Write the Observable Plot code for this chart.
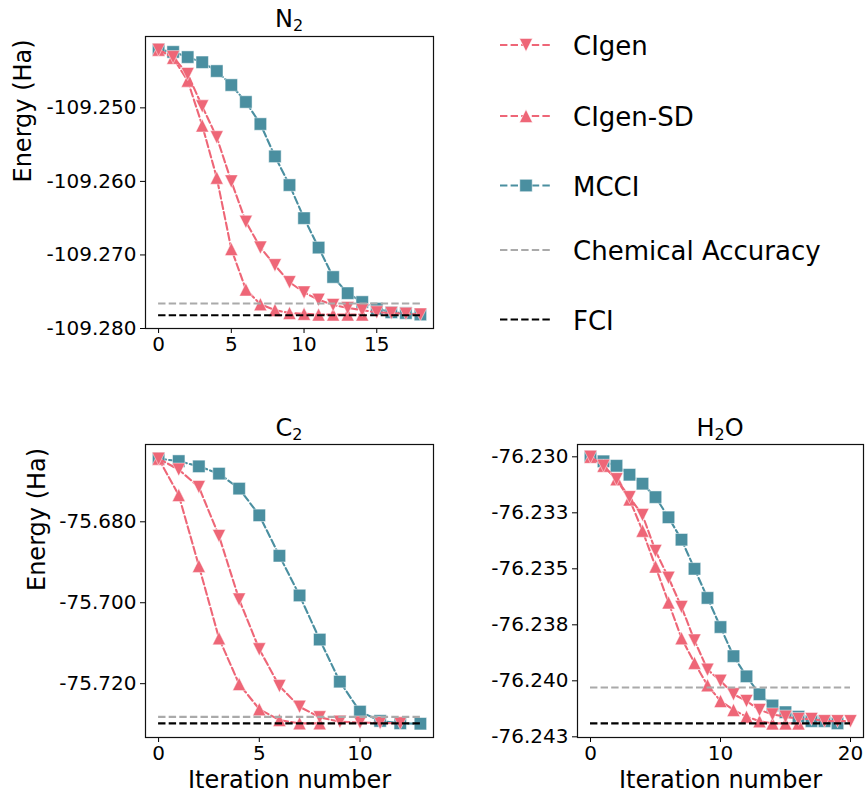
<!DOCTYPE html>
<html><head><meta charset="utf-8">
<script src="https://cdn.jsdelivr.net/npm/d3@7"></script>
<script src="https://cdn.jsdelivr.net/npm/@observablehq/plot@0.6"></script>
<style>
body{margin:0;background:#fff;}
#fig{position:relative;width:865px;height:797px;font-family:"DejaVu Sans",sans-serif;color:#000;background:#fff;overflow:hidden;}
.abs{position:absolute;}
.title{font-size:24px;text-align:center;width:300px;line-height:24px;white-space:nowrap;}
.title sub{font-size:16px;vertical-align:baseline;position:relative;top:0.25em;}
svg{overflow:visible;}
</style></head><body><div id="fig"></div>
<script>
// ---------- data ----------
const seriesNames = ["CIgen", "CIgen-SD", "MCCI", "Chemical Accuracy", "FCI"];

const n2CIgen = [-109.2421, -109.2431, -109.2454, -109.2498, -109.2540, -109.2600, -109.2655, -109.2690, -109.2714, -109.2737, -109.2751, -109.2761, -109.2768, -109.2772, -109.2775, -109.2778, -109.2779, -109.2780, -109.2781];
const n2CIgenSD = [-109.2421, -109.2432, -109.2463, -109.2524, -109.2595, -109.2692, -109.2747, -109.2767, -109.2775, -109.2779, -109.2780, -109.2781, -109.2781, -109.2781, -109.2781];
const n2MCCI = [-109.2421, -109.2424, -109.2431, -109.2438, -109.2450, -109.2469, -109.2492, -109.2522, -109.2566, -109.2605, -109.2650, -109.2690, -109.2730, -109.2752, -109.2764, -109.2773, -109.2778, -109.2779, -109.2781];
const n2ChemAcc = -109.2766;
const n2FCI = -109.2782;
const n2YTicks = [-109.25, -109.26, -109.27, -109.28];
const n2YLabels = ["-109.250", "-109.260", "-109.270", "-109.280"];
const n2XTicks = [0, 5, 10, 15];

const c2CIgen = [-75.6644, -75.6671, -75.6714, -75.6835, -75.6992, -75.7115, -75.7206, -75.7257, -75.7283, -75.7294, -75.7296, -75.7297, -75.7298];
const c2CIgenSD = [-75.6644, -75.6734, -75.6909, -75.7088, -75.7201, -75.7263, -75.7290, -75.7298, -75.7298];
const c2MCCI = [-75.6644, -75.6650, -75.6663, -75.6681, -75.6718, -75.6784, -75.6884, -75.6982, -75.7091, -75.7195, -75.7269, -75.7292, -75.7298, -75.7299];
const c2ChemAcc = -75.7282;
const c2FCI = -75.7298;
const c2YTicks = [-75.68, -75.70, -75.72];
const c2YLabels = ["-75.680", "-75.700", "-75.720"];
const c2XTicks = [0, 5, 10];

const h2oCIgen = [-76.2300, -76.2304, -76.2310, -76.2318, -76.2326, -76.2342, -76.2354, -76.2367, -76.2382, -76.2395, -76.2400, -76.2406, -76.2409, -76.2413, -76.2415, -76.2416, -76.2417, -76.2417, -76.2418, -76.2418, -76.2418];
const h2oCIgenSD = [-76.2300, -76.2304, -76.2310, -76.2319, -76.2333, -76.2349, -76.2365, -76.2381, -76.2392, -76.2402, -76.2409, -76.2413, -76.2416, -76.2418, -76.2419, -76.2419, -76.2419];
const h2oMCCI = [-76.2300, -76.2302, -76.2304, -76.2308, -76.2312, -76.2318, -76.2327, -76.2337, -76.2350, -76.2363, -76.2376, -76.2389, -76.2398, -76.2406, -76.2411, -76.2414, -76.2416, -76.2418, -76.2418, -76.2419];
const h2oChemAcc = -76.2403;
const h2oFCI = -76.2419;
const h2oYTicks = [-76.2300, -76.2325, -76.2350, -76.2375, -76.2400, -76.2425];
const h2oYLabels = ["-76.230", "-76.233", "-76.235", "-76.238", "-76.240", "-76.243"];
const h2oXTicks = [0, 10, 20];

// ---------- style ----------
const PINK = "#EE6677";
const TEAL = "#4A8FA0";
const GREY = "#AAAAAA";
const DASH = "7.4,3.2";

const triDown = {draw(ctx, size) {const h = Math.sqrt(size / Math.PI); ctx.moveTo(0, h); ctx.lineTo(h, -h); ctx.lineTo(-h, -h); ctx.closePath();}};
const triUp = {draw(ctx, size) {const h = Math.sqrt(size / Math.PI); ctx.moveTo(0, -h); ctx.lineTo(h, h); ctx.lineTo(-h, h); ctx.closePath();}};
const square = {draw(ctx, size) {const h = Math.sqrt(size / Math.PI); ctx.rect(-h, -h, 2 * h, 2 * h);}};

const fig = document.getElementById("fig");

function panel(o) {
  const series = [
    {vals: o.mcci, color: TEAL, sym: square, r: 6.2},
    {vals: o.sd, color: PINK, sym: triUp, r: 6.5},
    {vals: o.cigen, color: PINK, sym: triDown, r: 6.5}
  ];
  const xMax = Math.max(o.cigen.length, o.sd.length, o.mcci.length) - 1;
  const marks = [];
  for (const s of series) {
    marks.push(Plot.line(s.vals, {x: (d, i) => i, y: d => d, stroke: s.color, strokeWidth: 2.1, strokeDasharray: DASH}));
    marks.push(Plot.dot(s.vals, {x: (d, i) => i, y: d => d, symbol: s.sym, r: s.r, fill: s.color, stroke: "white", strokeWidth: 0.8, strokeOpacity: 0.6}));
  }
  marks.push(Plot.ruleY([o.ca], {x1: 0, x2: xMax, stroke: GREY, strokeWidth: 2.1, strokeDasharray: DASH}));
  marks.push(Plot.ruleY([o.fci], {x1: 0, x2: xMax, stroke: "black", strokeWidth: 2.1, strokeDasharray: DASH}));
  marks.push(Plot.axisY({ticks: o.yTicks, tickFormat: d => o.yLabels[o.yTicks.indexOf(d)], tickSize: 5, tickPadding: 4, fontSize: 20, label: null}));
  marks.push(Plot.axisX({ticks: o.xTicks, tickFormat: d => String(d), tickSize: 5, tickPadding: 3, fontSize: 20, label: null}));
  if (o.ylabel) marks.push(Plot.text(["Energy (Ha)"], {text: d => d, frameAnchor: "left", rotate: -90, dx: o.ylabelDx, fontSize: 24}));
  if (o.xlabel) marks.push(Plot.text(["Iteration number"], {text: d => d, frameAnchor: "bottom", dy: 50, fontSize: 24}));
  marks.push(Plot.frame({stroke: "#111", strokeWidth: 1.2}));
  const p = Plot.plot({
    width: o.width, height: o.height,
    marginLeft: o.mL, marginRight: o.mR, marginTop: o.mT, marginBottom: o.mB,
    x: {domain: o.xDomain},
    y: {domain: o.yDomain},
    style: {fontFamily: "DejaVu Sans, sans-serif", fontSize: "20px", background: "transparent", color: "black"},
    marks
  });
  p.classList.add("abs");
  p.style.left = o.left + "px";
  p.style.top = o.top + "px";
  fig.appendChild(p);
  const t = document.createElement("div");
  t.className = "abs title";
  t.innerHTML = o.title;
  t.style.left = (o.titleX - 150) + "px";
  t.style.top = (o.titleBase - 20) + "px";
  fig.appendChild(t);
}

panel({cigen: n2CIgen, sd: n2CIgenSD, mcci: n2MCCI, ca: n2ChemAcc, fci: n2FCI,
  yTicks: n2YTicks, yLabels: n2YLabels, xTicks: n2XTicks,
  xDomain: [-0.9, 18.9], yDomain: [-109.2800, -109.2403],
  width: 440, height: 365, mL: 145, mR: 7, mT: 36, mB: 37, left: 0, top: 0,
  ylabel: true, ylabelDx: -122, xlabel: false, title: "N<sub>2</sub>", titleX: 289, titleBase: 27});

panel({cigen: c2CIgen, sd: c2CIgenSD, mcci: c2MCCI, ca: c2ChemAcc, fci: c2FCI,
  yTicks: c2YTicks, yLabels: c2YLabels, xTicks: c2XTicks,
  xDomain: [-0.65, 13.65], yDomain: [-75.7333, -75.6609],
  width: 440, height: 387, mL: 145, mR: 7, mT: 34, mB: 60, left: 0, top: 410,
  ylabel: true, ylabelDx: -108, xlabel: true, title: "C<sub>2</sub>", titleX: 289, titleBase: 436});

panel({cigen: h2oCIgen, sd: h2oCIgenSD, mcci: h2oMCCI, ca: h2oChemAcc, fci: h2oFCI,
  yTicks: h2oYTicks, yLabels: h2oYLabels, xTicks: h2oXTicks,
  xDomain: [-1, 21], yDomain: [-76.24253, -76.22945],
  width: 435, height: 387, mL: 147, mR: 2, mT: 34, mB: 60, left: 430, top: 410,
  ylabel: false, xlabel: true, title: "H<sub>2</sub>O", titleX: 720, titleBase: 436});

// ---------- legend ----------
const legendItems = [
  {name: seriesNames[0], color: PINK, sym: triDown, r: 6.5, y: 45},
  {name: seriesNames[1], color: PINK, sym: triUp, r: 6.5, y: 116},
  {name: seriesNames[2], color: TEAL, sym: square, r: 6.2, y: 185.5},
  {name: seriesNames[3], color: GREY, sym: null, y: 250},
  {name: seriesNames[4], color: "black", sym: null, y: 319.5}
];
const lg = d3.create("svg").attr("width", 380).attr("height", 340).attr("class", "abs")
  .style("left", "485px").style("top", "0px");
const g = lg.selectAll("g").data(legendItems).join("g").attr("transform", d => `translate(0,${d.y})`);
g.append("line").attr("x1", 15).attr("x2", 67).attr("y1", 0).attr("y2", 0)
  .attr("stroke", d => d.color).attr("stroke-width", 2.1).attr("stroke-dasharray", DASH);
g.filter(d => d.sym).append("path")
  .attr("transform", "translate(41,0)")
  .attr("d", d => d3.symbol(d.sym, Math.PI * d.r * d.r)())
  .attr("fill", d => d.color).attr("stroke", "white").attr("stroke-width", 0.8).attr("stroke-opacity", 0.6);
g.append("text").attr("x", 88).attr("y", 1).attr("dominant-baseline", "central")
  .attr("font-family", "DejaVu Sans, sans-serif").attr("font-size", 26).text(d => d.name);
fig.appendChild(lg.node());
</script>
</body></html>
